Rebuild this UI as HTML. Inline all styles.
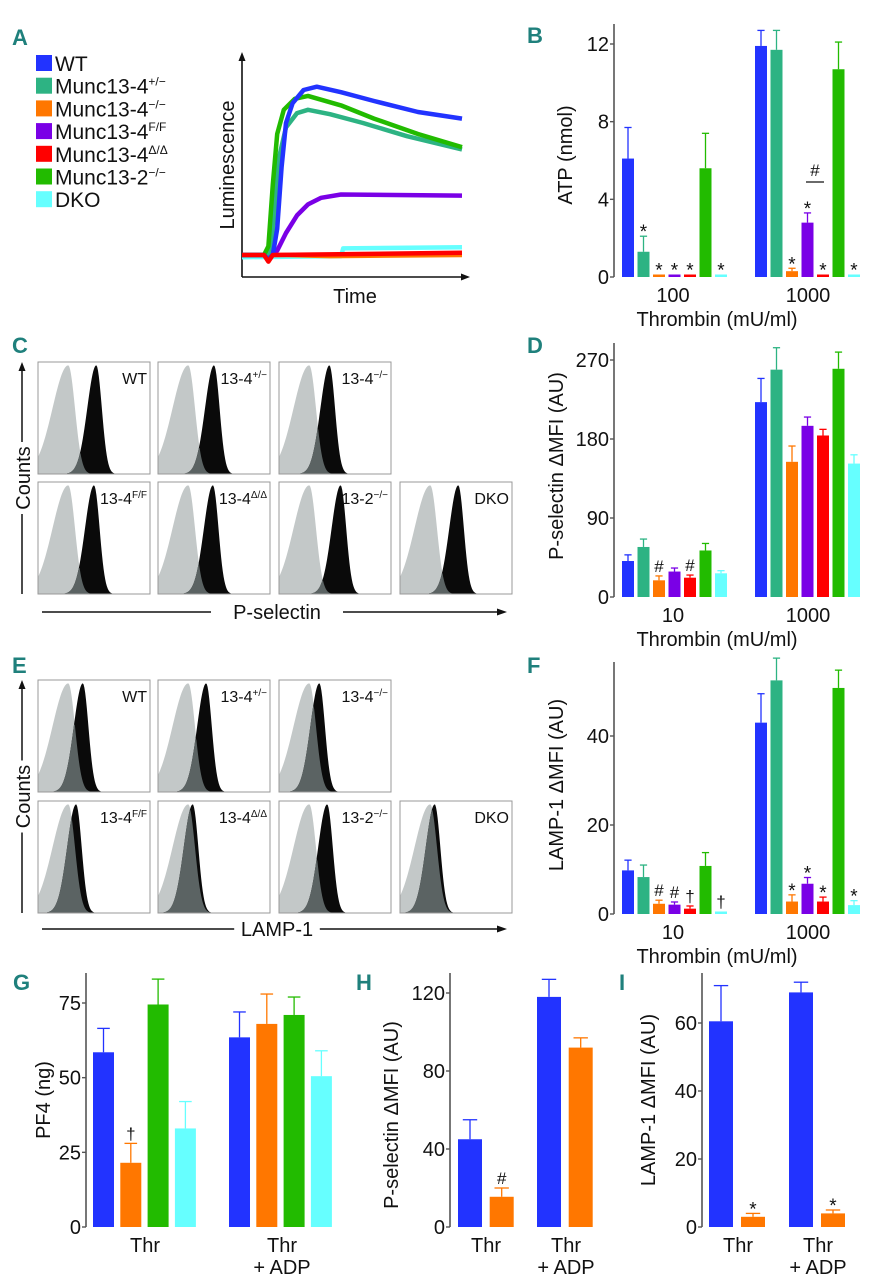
<!DOCTYPE html>
<html><head><meta charset="utf-8"><style>
html,body{margin:0;padding:0;background:#fff}
svg{display:block}
text{font-family:"Liberation Sans",sans-serif;fill:#111}
.pl{font-family:"Liberation Sans Narrow","Liberation Sans",sans-serif;font-weight:bold;fill:#1f807c;font-size:22px}
</style></head><body>
<svg id="fig" width="874" height="1280" viewBox="0 0 874 1280" xmlns="http://www.w3.org/2000/svg">
<g id="letters">
<text class="pl" x="12" y="45">A</text>
<text class="pl" x="527" y="43">B</text>
<text class="pl" x="12" y="353">C</text>
<text class="pl" x="527" y="353">D</text>
<text class="pl" x="12" y="673">E</text>
<text class="pl" x="527" y="673">F</text>
<text class="pl" x="13" y="990">G</text>
<text class="pl" x="356" y="990">H</text>
<text class="pl" x="619" y="990">I</text>
</g>
</svg>
<script>
const NS="http://www.w3.org/2000/svg";
const svg=document.getElementById('fig');
function mk(tag,attrs,parent,txt){const e=document.createElementNS(NS,tag);for(const k in attrs)e.setAttribute(k,attrs[k]);if(txt!==undefined)e.textContent=txt;(parent||svg).appendChild(e);return e;}

// ---------- data ----------
const colors=['#2233ff','#2db383','#ff7700','#7a00e6','#ff0000','#22bb00','#66ffff'];
const legendNames=['WT','Munc13-4','Munc13-4','Munc13-4','Munc13-4','Munc13-2','DKO'];
const legendSups=['','+/\u2212','\u2212/\u2212','F/F','\u0394/\u0394','\u2212/\u2212',''];

// Panel A traces: [time, luminescence]
const traceWT=[[0,10],[10,10],[12,8],[14,10],[16,22],[18,50],[20,70],[23,79],[28,85],[34,86.5],[45,84],[60,80],[80,75],[100,72]];
const traceHet=[[0,10],[11,10],[13,12],[15,32],[17,55],[20,68],[25,74.5],[30,76],[40,74],[55,70],[75,64],[100,58]];
const traceKO=[[0,10],[20,10],[40,9.5],[100,10]];
const traceFF=[[0,10],[13,10],[16,12],[20,20],[25,28],[30,33],[36,36],[45,37.5],[100,37]];
const traceDD=[[0,10],[10,10],[12,7],[14,10],[100,11]];
const trace132=[[0,10],[10,10],[12,14],[14,42],[16,65],[19,76],[24,81],[30,82.3],[45,78],[60,72],[80,65],[100,59]];
const traceDKO=[[0,9],[45,9.5],[46,13],[100,13.5]];

// Panel B ATP
const bCats=['100','1000'];
const bVals=[[6.1,1.3,0.1,0.1,0.1,5.6,0.1],[11.9,11.7,0.3,2.8,0.1,10.7,0.1]];
const bErrs=[[1.6,0.8,0,0,0,1.8,0],[0.8,1.0,0.15,0.5,0,1.4,0]];
const bMarks=[['','*','*','*','*','','*'],['','','*','*','*','','*']];
const bTicks=[0,4,8,12];
// Panel D P-selectin
const dCats=['10','1000'];
const dVals=[[41,57,19,29,22,53,27],[222,259,154,195,184,260,152]];
const dErrs=[[7,9,5,4,3,8,3],[27,25,18,10,7,19,10]];
const dMarks=[['','','#','','#','',''],['','','','','','','']];
const dTicks=[0,90,180,270];
// Panel F LAMP-1
const fCats=['10','1000'];
const fVals=[[9.8,8.3,2.3,2.1,1.2,10.8,0.4],[43,52.5,2.8,6.8,2.8,50.8,2]];
const fErrs=[[2.3,2.7,0.8,0.6,0.6,3,0],[6.5,5,1.5,1.4,1,4,1]];
const fMarks=[['','','#','#','\u2020','','\u2020'],['','','*','*','*','','*']];
const fTicks=[0,20,40];
// Panel G PF4
const gCats=['Thr','Thr + ADP'];
const gVals=[[58.5,21.5,74.5,33],[63.5,68,71,50.5]];
const gErrs=[[8,6.5,8.5,9],[8.5,10,6,8.5]];
const gMarks=[['','\u2020','',''],['','','','']];
const gTicks=[0,25,50,75];
// Panel H
const hVals=[[45,15.5],[118,92]];
const hErrs=[[10,4.5],[9,5]];
const hMarks=[['','#'],['','']];
const hTicks=[0,40,80,120];
// Panel I
const iVals=[[60.5,3],[69,4]];
const iErrs=[[10.5,1],[3,1]];
const iMarks=[['','*'],['','*']];
const iTicks=[0,20,40,60];

// ---------- Panel A legend ----------
const legG=mk('g',{});


legendNames.forEach((n,i)=>{
  const y=55+i*22.7;
  const r=mk('rect',{x:36,y:y,width:16,height:16,fill:colors[i]},legG);
  
  
  const t=mk('text',{x:55,y:y+16,'font-size':21},legG,n);
  
  
  if(legendSups[i]){mk('tspan',{dy:-8,'font-size':12},t,legendSups[i]);}
});
// Panel A axes
const ax0=242,ay0=277,axs=2.2,ays=2.2;
const tx=t=>ax0+t*axs, ty=v=>ay0-v*ays;
mk('line',{x1:ax0,y1:ay0,x2:464,y2:ay0,stroke:'#111','stroke-width':1.6});
mk('path',{d:`M470 ${ay0} L461 ${ay0-3.5} L461 ${ay0+3.5}Z`,fill:'#111'});
mk('line',{x1:ax0,y1:ay0,x2:ax0,y2:58,stroke:'#111','stroke-width':1.6});
mk('path',{d:`M${ax0} 52 L${ax0-3.5} 61 L${ax0+3.5} 61Z`,fill:'#111'});
let t1=mk('text',{x:355,y:303,'font-size':20,'text-anchor':'middle'},svg,'Time');

let t2=mk('text',{x:0,y:0,'font-size':20,'text-anchor':'middle',transform:'translate(234,165) rotate(-90)'},svg,'Luminescence');

const traces=[traceDKO,traceKO,traceFF,traceHet,trace132,traceWT,traceDD];
const traceCol=[colors[6],colors[2],colors[3],colors[1],colors[5],colors[0],colors[4]];
traces.forEach((tr,i)=>{
  const p=mk('polyline',{points:tr.map(d=>tx(d[0])+','+ty(d[1])).join(' '),fill:'none',stroke:traceCol[i],'stroke-width':4.5,'stroke-linejoin':'round'});
  
  
});

// ---------- bar chart helper ----------
function barChart(o){
  const g=mk('g',{});
  
  
  const sy=v=>o.y0-v*o.scale;
  mk('line',{x1:o.ax,y1:o.y0,x2:o.ax,y2:o.top,stroke:'#555','stroke-width':1.6},g);
  o.ticks.forEach(t=>{
    mk('line',{x1:o.ax-4,y1:sy(t),x2:o.ax,y2:sy(t),stroke:'#555','stroke-width':1.4},g);
    const tt=mk('text',{x:o.ax-5,y:sy(t)+7,'font-size':o.fs||20,'text-anchor':'end'},g,String(t));
    
    
  });
  o.vals.forEach((grp,gi)=>{
    grp.forEach((v,bi)=>{
      const x=o.gx[gi]+bi*o.step, c=o.cols[bi];
      const h=Math.max(v*o.scale,2.5);
      const r=mk('rect',{x:x,y:o.y0-h,width:o.bw,height:h,fill:c},g);
      
      
      const e=o.errs[gi][bi];
      const cx=x+o.bw/2;
      if(e>0){
        mk('line',{x1:cx,y1:sy(v),x2:cx,y2:sy(v+e),stroke:c,'stroke-width':1.3},g);
        mk('line',{x1:cx-o.bw*0.3,y1:sy(v+e),x2:cx+o.bw*0.3,y2:sy(v+e),stroke:c,'stroke-width':1.3},g);
      }
      const m=o.marks[gi][bi];
      if(m){
        const top=Math.max(v*o.scale,2.5)+e*o.scale;
        const mt=mk('text',{x:cx,y:o.y0-top-(m==='*'?-2:4),'font-size':m==='*'?19:17,'text-anchor':'middle'},g,m);
        
        
      }
    });
  });
  o.cats.forEach((c,ci)=>{
    const lines=c.split(' + ');
    lines.forEach((ln,li)=>{
      const ct=mk('text',{x:o.cx[ci],y:o.y0+(o.catdy||25)+li*22,'font-size':o.fs||20,'text-anchor':'middle'},g,li?'+ '+ln:ln);
      
      
    });
  });
  if(o.xt){const xt=mk('text',{x:o.xtx,y:o.y0+49,'font-size':20,'text-anchor':'middle'},g,o.xt);
    }
  const yt=mk('text',{x:0,y:0,'font-size':20,'text-anchor':'middle',transform:`translate(${o.ytx},${o.yty}) rotate(-90)`},g,o.yt);
  
  
  return {g,sy};
}
const B=barChart({name:'panel-b-atp',ax:614,y0:277,top:24,scale:(277-44)/12,ticks:bTicks,vals:bVals,errs:bErrs,marks:bMarks,cols:colors,gx:[622,755],step:15.5,bw:12,cats:bCats,cx:[673,808],xt:'Thrombin (mU/ml)',xtx:717,yt:'ATP (nmol)',ytx:572,yty:155});
mk('line',{x1:806,y1:182,x2:824,y2:182,stroke:'#111','stroke-width':1.3},B.g);
mk('text',{x:815,y:176,'font-size':17,'text-anchor':'middle'},B.g,'#');
barChart({name:'panel-d-p-selectin',ax:614,y0:597,top:343,scale:(597-360)/270,ticks:dTicks,vals:dVals,errs:dErrs,marks:dMarks,cols:colors,gx:[622,755],step:15.5,bw:12,cats:dCats,cx:[673,808],xt:'Thrombin (mU/ml)',xtx:717,yt:'P-selectin \u0394MFI (AU)',ytx:563,yty:466});
barChart({name:'panel-f-lamp1',ax:614,y0:914,top:662,scale:(914-736)/40,ticks:fTicks,vals:fVals,errs:fErrs,marks:fMarks,cols:colors,gx:[622,755],step:15.5,bw:12,cats:fCats,cx:[673,808],xt:'Thrombin (mU/ml)',xtx:717,yt:'LAMP-1 \u0394MFI (AU)',ytx:563,yty:785});
const gcols=[colors[0],colors[2],colors[5],colors[6]];
barChart({name:'panel-g-pf4',ax:86,y0:1227,top:973,scale:(1227-1003)/75,ticks:gTicks,vals:gVals,errs:gErrs,marks:gMarks,cols:gcols,gx:[93,229],step:27.3,bw:21,cats:gCats,cx:[145,282],yt:'PF4 (ng)',ytx:50,yty:1100});
barChart({name:'panel-h-p-selectin',ax:450,y0:1227,top:973,scale:(1227-993)/120,ticks:hTicks,vals:hVals,errs:hErrs,marks:hMarks,cols:[colors[0],colors[2]],gx:[458,537],step:31.7,bw:24,cats:gCats,cx:[486,566],yt:'P-selectin \u0394MFI (AU)',ytx:398,yty:1115});
barChart({name:'panel-i-lamp1',ax:702,y0:1227,top:973,scale:(1227-1023)/60,ticks:iTicks,vals:iVals,errs:iErrs,marks:iMarks,cols:[colors[0],colors[2]],gx:[709,789],step:32,bw:24,cats:gCats,cx:[738,818],yt:'LAMP-1 \u0394MFI (AU)',ytx:655,yty:1100});

// ---------- flow histograms ----------
const labelsC=[['WT',''],['13-4','+/\u2212'],['13-4','\u2212/\u2212'],['13-4','F/F'],['13-4','\u0394/\u0394'],['13-2','\u2212/\u2212'],['DKO','']];
const stimC=[.52,.50,.45,.50,.49,.55,.52];
const stimE=[.40,.43,.36,.34,.31,.43,.31];
function histPanel(name,rowTops,stims,xlabel,arrowY){
  const g=mk('g',{});
  
  
  const cols=[38,158,279,400], W=112,H=112;
  stims.forEach((s,i)=>{
    const row=i<3?0:1, col=i<3?i:i-3;
    const x0=cols[col], y0=rowTops[row];
    const pg=mk('g',{},g);
    
    
    const N=140;
    const ctrl=[],st=[];
    for(let k=0;k<=N;k++){
      const f=k/N;
      const cw=f<0.27?0.14:0.06; ctrl.push(0.97*Math.exp(-Math.pow((f-0.27)/cw,2)/2));
      const sw=f<s?0.08:0.05; st.push(0.97*Math.exp(-Math.pow((f-s)/sw,2)/2));
    }
    const poly=(arr)=>{let p=`${x0},${y0+H} `;arr.forEach((v,k)=>{p+=`${(x0+k/N*W).toFixed(1)},${(y0+H-v*H).toFixed(1)} `});return p+`${x0+W},${y0+H}`;};
    mk('polygon',{points:poly(ctrl),fill:'#c3c8c8'},pg);
    mk('polygon',{points:poly(st),fill:'#0a0a0a'},pg);
    mk('polygon',{points:poly(ctrl.map((v,k)=>Math.min(v,st[k]))),fill:'#5b6363'},pg);
    mk('rect',{x:x0,y:y0,width:W,height:H,fill:'none',stroke:'#999','stroke-width':1},pg);
    const lb=mk('text',{x:x0+W-3,y:y0+22,'font-size':16,'text-anchor':'end'},pg,labelsC[i][0]);
    
    
    if(labelsC[i][1]){mk('tspan',{dy:-6,'font-size':10},lb,labelsC[i][1]);}
  });
  const top=rowTops[0], bot=rowTops[1]+112;
  mk('line',{x1:22,y1:bot,x2:22,y2:(top+bot)/2+36,stroke:'#111','stroke-width':1.5},g);
  mk('line',{x1:22,y1:(top+bot)/2-36,x2:22,y2:top+8,stroke:'#111','stroke-width':1.5},g);
  mk('path',{d:`M22 ${top} L18.5 ${top+9} L25.5 ${top+9}Z`,fill:'#111'},g);
  const ct=mk('text',{x:0,y:0,'font-size':20,'text-anchor':'middle',transform:`translate(30,${(top+bot)/2}) rotate(-90)`},g,'Counts');
  
  const tw=xlabel.length*5.8+8;
  mk('line',{x1:42,y1:arrowY,x2:277-tw,y2:arrowY,stroke:'#111','stroke-width':1.5},g);
  mk('line',{x1:277+tw,y1:arrowY,x2:498,y2:arrowY,stroke:'#111','stroke-width':1.5},g);
  mk('path',{d:`M507 ${arrowY} L497 ${arrowY-3.5} L497 ${arrowY+3.5}Z`,fill:'#111'},g);
  const xl=mk('text',{x:277,y:arrowY+7,'font-size':20,'text-anchor':'middle'},g,xlabel);
  
}
histPanel('panel-c-p-selectin-histograms',[362,482],stimC,'P-selectin',612);
histPanel('panel-e-lamp1-histograms',[680,801],stimE,'LAMP-1',929);
</script>
</body></html>
